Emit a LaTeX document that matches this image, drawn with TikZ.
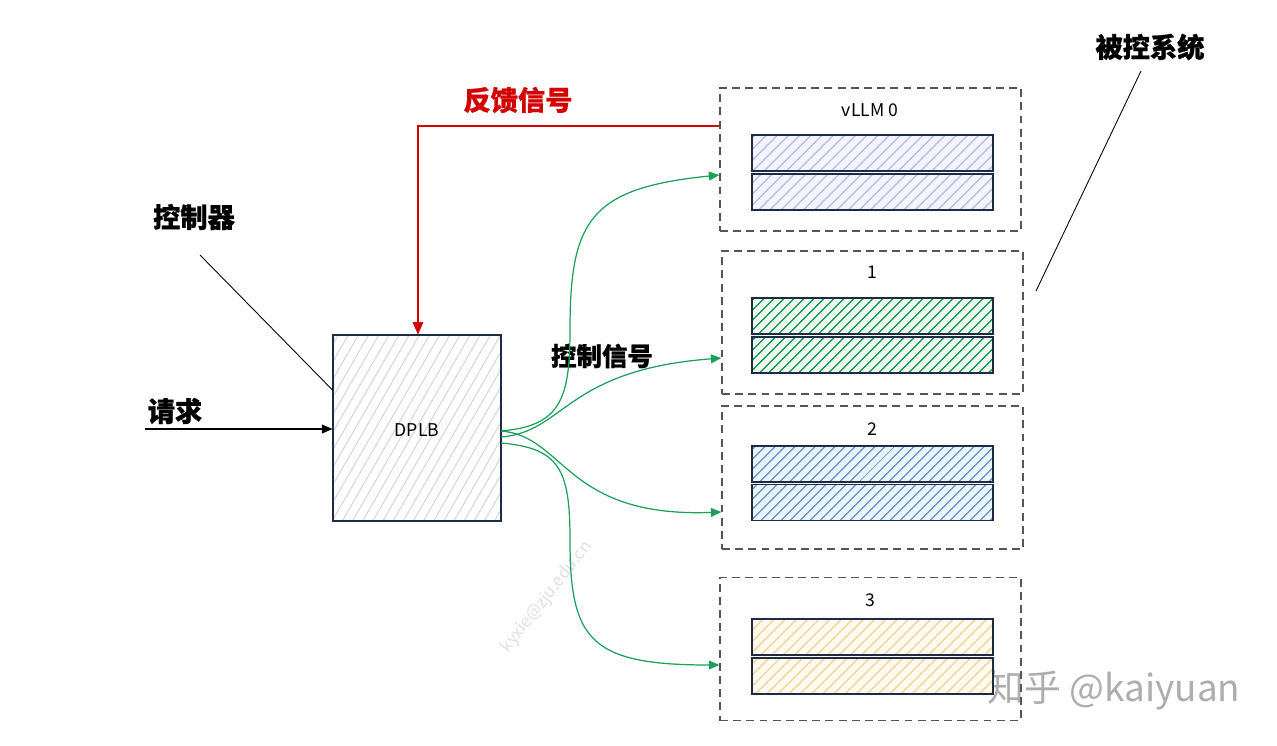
\documentclass[tikz,border=0pt]{standalone}
\usepackage{fontspec}
\setmainfont{Noto Sans CJK SC}[BoldFeatures={FakeBold=0.8}]
\usetikzlibrary{arrows.meta,patterns.meta,positioning}
\definecolor{navy}{HTML}{1F2A44}
\definecolor{dashgray}{HTML}{555555}
\definecolor{fbred}{HTML}{D40000}
\definecolor{ctlgreen}{HTML}{1AA05A}
\definecolor{lav}{HTML}{B8C0EA}
\definecolor{lavbg}{HTML}{F3F4FC}
\definecolor{grn}{HTML}{1C9E52}
\definecolor{grnbg}{HTML}{EEF9F2}
\definecolor{blu}{HTML}{6E9AD0}
\definecolor{blubg}{HTML}{EAF4FC}
\definecolor{org}{HTML}{F4D49A}
\definecolor{orgbg}{HTML}{FFFAF0}
\definecolor{hgray}{HTML}{D6D6D6}
\begin{document}
\begin{tikzpicture}[x=0.02cm,y=-0.02cm,
  group/.style={draw=dashgray, dash pattern=on 4.5pt off 3pt, line width=0.7pt, minimum width=6.02cm, minimum height=2.86cm, inner sep=0pt},
  bar/.style={draw=navy, line width=0.8pt, minimum width=4.82cm, minimum height=0.72cm, inner sep=0pt},
  hatch/.style 2 args={pattern={Lines[angle=45,distance=#2,line width=0.8pt]}, pattern color=#1},
  biglabel/.style={font=\bfseries\fontsize{15.5pt}{17pt}\selectfont, inner sep=0pt},
  smalllabel/.style={font=\fontsize{10pt}{12pt}\selectfont, inner sep=0pt},
  ctl/.style={draw=ctlgreen, line width=0.7pt, -{Triangle[length=6pt,width=5pt]}},
  leader/.style={draw=black, line width=0.5pt}
]
\useasboundingbox (0,0) rectangle (1277,745);
\fill[white] (0,0) rectangle (1277,745);

% watermarks
\node[font=\fontsize{9.5pt}{10pt}\selectfont, text=black!12, rotate=52] (wm1) at (547,597) {kyxie@zju.edu.cn};
\node[font=\fontsize{21pt}{23pt}\selectfont, text=black!32, inner sep=0pt] (wm2) at (1114,690) {知乎 @kaiyuan};

% controller
\node[draw=navy, line width=0.9pt, minimum width=3.36cm, minimum height=3.72cm, inner sep=0pt,
      pattern={Lines[angle=60,distance=5pt,line width=0.6pt]}, pattern color=hgray] (dplb) at (417,428) {};
\node[smalllabel] (dplbt) at (417,430) {DPLB};

% groups
\node[group] (g0) at (870.5,159.5) {};
\node[group] (g1) at (872.5,322.5) {};
\node[group] (g2) at (872.5,477.5) {};
\node[group] (g3) at (870.5,649) {};

\node[smalllabel] (t0) at (870,110) {vLLM 0};
\node[smalllabel] (t1) at (872,272) {1};
\node[smalllabel] (t2) at (872,429) {2};
\node[smalllabel] (t3) at (870,600) {3};

% bars
\node[bar, fill=lavbg] (b0a) at (872.5,153) {};
\node[bar, hatch={lav}{4.5pt}] (b0ah) at (872.5,153) {};
\node[bar, fill=lavbg] (b0b) at (872.5,192) {};
\node[bar, hatch={lav}{4.5pt}] (b0bh) at (872.5,192) {};

\node[bar, fill=grnbg] (b1a) at (872.5,316) {};
\node[bar, hatch={grn}{4pt}] (b1ah) at (872.5,316) {};
\node[bar, fill=grnbg] (b1b) at (872.5,355) {};
\node[bar, hatch={grn}{4pt}] (b1bh) at (872.5,355) {};

\node[bar, fill=blubg] (b2a) at (872.5,464) {};
\node[bar, hatch={blu}{4pt}] (b2ah) at (872.5,464) {};
\node[bar, fill=blubg] (b2b) at (872.5,502.5) {};
\node[bar, hatch={blu}{4pt}] (b2bh) at (872.5,502.5) {};

\node[bar, fill=orgbg] (b3a) at (872.5,637) {};
\node[bar, hatch={org}{4.5pt}] (b3ah) at (872.5,637) {};
\node[bar, fill=orgbg] (b3b) at (872.5,676) {};
\node[bar, hatch={org}{4.5pt}] (b3bh) at (872.5,676) {};

% labels
\node[biglabel] (ctrl) at (194,217) {控制器};
\node[biglabel] (req) at (175,411) {请求};
\node[biglabel, text=fbred] (fb) at (518,100) {反馈信号};
\node[biglabel, font=\bfseries\fontsize{14.5pt}{16pt}\selectfont] (cs) at (602,356) {控制信号};
\node[biglabel] (sys) at (1150,47) {被控系统};

% leaders
\coordinate (ctrlA) at (200,255);
\draw[leader] (ctrlA) -- (dplb.west |- 0,390);
\coordinate (sysA) at (1141,71);
\coordinate (sysB) at (1036,291);
\draw[leader] (sysA) -- (sysB);

% request arrow
\coordinate (reqS) at (145,429);
\draw[draw=black, line width=0.7pt, -{Triangle[length=6pt,width=5pt]}] (reqS) -- (dplb.west |- 0,429);

% feedback
\draw[draw=fbred, line width=0.8pt, -{Triangle[length=7pt,width=6pt]}] (g0.west |- 0,126) -- (418,126) -- (dplb.north -| 418,0);

% control signals
\draw[ctl] (501,431) .. controls (560,426) and (570,400) .. (570,330)
  .. controls (570,220) and (590,188) .. (g0.west |- 0,175);
\draw[ctl] (501,437) .. controls (565,432) and (565,370) .. (g1.west |- 0,358);
\draw[ctl] (501,431) .. controls (565,436) and (565,518) .. (g2.west |- 0,512);
\draw[ctl] (501,443) .. controls (560,448) and (570,470) .. (570,540)
  .. controls (570,640) and (590,665) .. (g3.west |- 0,665);
\end{tikzpicture}
\end{document}
